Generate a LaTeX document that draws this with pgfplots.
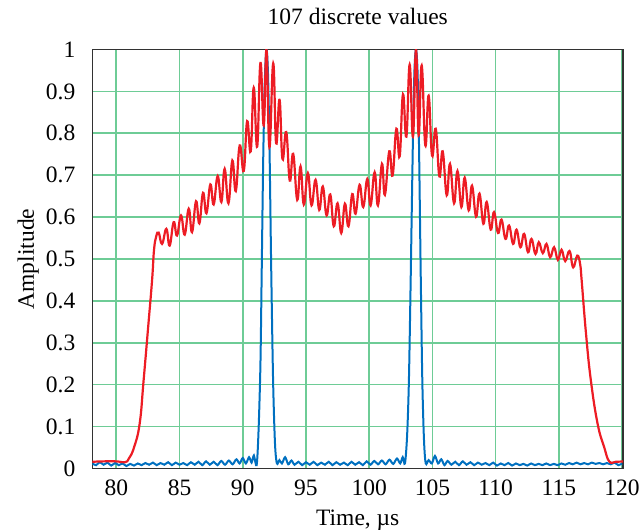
\documentclass[border=0pt]{standalone}
\usepackage{fontspec}
\setmainfont{Liberation Serif}
\usepackage{pgfplots}
\pgfplotsset{compat=1.18}
\definecolor{gridgreen}{RGB}{110,204,150}
\definecolor{myred}{RGB}{237,28,36}
\definecolor{myblue}{RGB}{0,112,192}
\definecolor{frame}{RGB}{50,50,50}
\begin{document}
\fontsize{23.5bp}{28bp}\selectfont
\begin{tikzpicture}
\path (0,0) rectangle (640bp,530bp);
\begin{axis}[
  at={(92.5bp,61.5bp)}, anchor=south west,
  width=530.5bp, height=419bp, scale only axis,
  xmin=78.12, xmax=120.07, ymin=0, ymax=1,
  xtick={80,85,...,120},
  ytick={0,0.1,...,1.0},
  yticklabels={0,0.1,0.2,0.3,0.4,0.5,0.6,0.7,0.8,0.9,1},
  /pgf/number format/assume math mode=true,
  major tick length=0pt,
  tick style={draw=none},
  grid=major,
  major grid style={draw=gridgreen, line width=1.6bp},
  axis line style={draw=frame, line width=1.6bp},
  yticklabel style={anchor=east, inner sep=0pt, xshift=-17bp},
  xticklabel style={anchor=north, inner sep=0pt, yshift=-11bp},
  title={107 discrete values},
  title style={at={(axis description cs:0.5,1)}, anchor=base, yshift=19.5bp, inner sep=0pt},
  xlabel={Time, µs},
  xlabel style={at={(axis description cs:0.5,0)}, anchor=base, yshift=-57bp, inner sep=0pt},
  ylabel={Amplitude},
  ylabel style={at={(axis description cs:-0.1103,0.5)}, anchor=base, rotate=0, inner sep=0pt},
  clip=true,
]
\addplot[myblue, line width=2bp, smooth, tension=0.5] table {
78.1 0.012
78.4 0.008
78.7 0.015
79.0 0.009
79.3 0.014
79.6 0.007
79.9 0.013
80.2 0.008
80.5 0.012
80.8 0.006
81.1 0.011
81.4 0.007
81.7 0.012
82.0 0.008
82.3 0.013
82.6 0.009
82.9 0.014
83.2 0.008
83.5 0.013
83.8 0.009
84.1 0.015
84.4 0.008
84.7 0.014
85.0 0.009
85.3 0.013
85.6 0.008
85.9 0.015
86.2 0.009
86.5 0.016
86.8 0.008
87.1 0.017
87.4 0.009
87.7 0.016
88.0 0.008
88.3 0.018
88.6 0.009
88.9 0.019
89.2 0.010
89.5 0.022
89.75 0.012
90.0 0.025
90.25 0.012
90.5 0.027
90.7 0.014
90.88 0.031
91.10 0.008
91.25 0.09
91.40 0.25
91.50 0.47
91.62 0.74
91.75 0.93
91.88 1.0
92.00 0.94
92.12 0.76
92.25 0.48
92.40 0.21
92.55 0.06
92.70 0.012
92.90 0.02
93.10 0.012
93.35 0.027
93.6 0.010
93.85 0.019
94.1 0.009
94.4 0.016
94.7 0.008
95.0 0.015
95.3 0.009
95.6 0.016
95.9 0.008
96.2 0.014
96.5 0.009
96.8 0.016
97.1 0.008
97.4 0.015
97.7 0.009
98.0 0.014
98.3 0.008
98.6 0.016
98.9 0.009
99.2 0.015
99.5 0.008
99.8 0.017
100.1 0.009
100.4 0.018
100.7 0.010
101.0 0.019
101.3 0.010
101.6 0.021
101.9 0.011
102.2 0.024
102.45 0.012
102.65 0.027
102.83 0.012
103.0 0.08
103.14 0.21
103.28 0.45
103.46 0.79
103.58 0.95
103.7 1.0
103.82 0.95
103.93 0.79
104.08 0.45
104.2 0.21
104.33 0.07
104.47 0.012
104.7 0.02
104.95 0.012
105.2 0.030
105.45 0.012
105.7 0.022
105.95 0.008
106.2 0.018
106.5 0.009
106.8 0.016
107.1 0.008
107.4 0.017
107.7 0.009
108.0 0.015
108.3 0.008
108.6 0.014
108.9 0.009
109.2 0.013
109.5 0.008
109.8 0.014
110.1 0.007
110.4 0.012
110.7 0.008
111.0 0.013
111.3 0.007
111.6 0.012
111.9 0.008
112.2 0.011
112.5 0.007
112.8 0.012
113.1 0.008
113.4 0.011
113.7 0.008
114.0 0.012
114.3 0.008
114.6 0.011
114.9 0.008
115.2 0.012
115.5 0.009
115.8 0.013
116.1 0.010
116.4 0.014
116.7 0.010
117.0 0.013
117.3 0.010
117.6 0.014
117.9 0.011
118.2 0.013
118.5 0.010
118.8 0.013
119.1 0.010
119.4 0.014
119.7 0.008
120.0 0.012
};
\addplot[myred, line width=2.2bp, smooth, tension=0.75] table {
78.1 0.016
79.0 0.017
80.0 0.017
80.7 0.015
81.0 0.024
81.4 0.05
81.85 0.107
82.16 0.21
82.5 0.33
82.83 0.449
82.98 0.52
83.15 0.553
83.35 0.563
83.62 0.536
83.96 0.572
84.22 0.532
84.54 0.588
84.8 0.556
85.12 0.604
85.41 0.558
85.73 0.62
85.99 0.564
86.31 0.638
86.57 0.585
86.86 0.658
87.13 0.609
87.44 0.678
87.7 0.63
88.02 0.698
88.31 0.636
88.57 0.715
88.87 0.633
89.18 0.735
89.45 0.662
89.76 0.771
90.08 0.71
90.35 0.829
90.63 0.757
90.87 0.909
91.14 0.768
91.4 0.968
91.66 0.819
91.88 0.999
92.11 0.767
92.41 0.967
92.64 0.776
92.91 0.88
93.14 0.739
93.44 0.803
93.72 0.687
93.99 0.751
94.31 0.641
94.57 0.721
94.83 0.63
95.15 0.705
95.44 0.628
95.76 0.689
96.05 0.617
96.33 0.673
96.63 0.604
96.92 0.654
97.2 0.578
97.5 0.633
97.79 0.562
98.08 0.632
98.36 0.578
98.66 0.655
98.92 0.608
99.24 0.677
99.53 0.624
99.85 0.691
100.11 0.628
100.43 0.707
100.69 0.628
101.01 0.727
101.24 0.653
101.59 0.757
101.85 0.699
102.15 0.811
102.41 0.745
102.67 0.893
102.94 0.792
103.2 0.964
103.46 0.792
103.7 1.0
103.91 0.795
104.15 0.962
104.44 0.771
104.7 0.89
104.97 0.747
105.26 0.811
105.55 0.697
105.81 0.757
106.13 0.652
106.39 0.727
106.71 0.633
106.98 0.71
107.29 0.624
107.55 0.694
107.87 0.616
108.13 0.675
108.45 0.601
108.72 0.656
109.03 0.584
109.29 0.636
109.61 0.57
109.87 0.612
110.19 0.562
110.46 0.594
110.78 0.548
111.06 0.58
111.38 0.536
111.65 0.57
111.96 0.528
112.25 0.56
112.56 0.516
112.83 0.548
113.15 0.512
113.41 0.54
113.73 0.514
114.02 0.536
114.31 0.504
114.62 0.528
114.92 0.498
115.21 0.522
115.5 0.495
115.84 0.519
116.13 0.48
116.45 0.508
116.68 0.488
116.8 0.449
117.15 0.32
117.53 0.21
118.06 0.107
118.58 0.051
118.98 0.017
119.5 0.016
120.1 0.017
};
\end{axis}
\end{tikzpicture}
\end{document}
